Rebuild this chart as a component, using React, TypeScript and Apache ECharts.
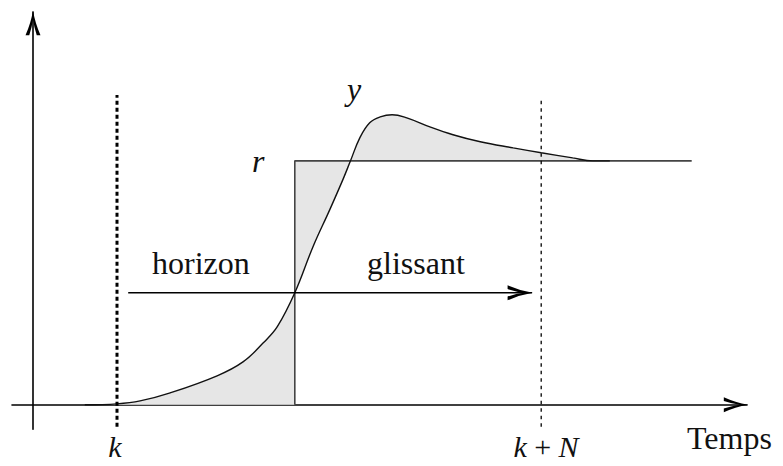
import React, { useEffect, useRef } from "react";
import * as echarts from "echarts";

// Time samples of the output y and its values (r normalised to 1)
const curveT = [7.4, 12, 15.3, 19.6, 26.3, 30, 32.9, 34.9, 37.4, 40, 42.4, 44.3, 45.3, 46.7, 48.1, 49.6, 51.3, 53.4, 56.7, 60, 63.9, 68.6, 72.6, 77.1, 80, 82.4];
const curveY = [0, 0.004, 0.016, 0.049, 0.119, 0.176, 0.254, 0.32, 0.459, 0.648, 0.8, 0.925, 0.996, 1.095, 1.156, 1.18, 1.189, 1.176, 1.139, 1.107, 1.078, 1.053, 1.033, 1.012, 1.0, 1.0];

// Reference step r
const stepTime = 37.4;
const rLevel = 1;
const rEnd = 94.1;

// Horizon markers
const kTime = 12;
const kNTime = 72.6;
const markerBottom = -0.09;
const kTop = 1.27;
const kNTop = 1.262;

// Sliding horizon arrow
const horizonStart = 13.6;
const horizonEnd = 71.3;
const horizonLevel = 0.459;

// Texts
const axisName = "Temps";
const labelHorizon = "horizon";
const labelGlissant = "glissant";

const ARROW_UP = "path://M8 0 Q5.5 14 0 26 L4 26 Q7 17 8 9 Q9 17 12 26 L16 26 Q10.5 14 8 0 Z";
const ARROW_RIGHT = "path://M26 8 Q12 5.5 0 0 L0 4 Q9 7 17 8 Q9 9 0 12 L0 16 Q12 10.5 26 8 Z";

const FONT = "'Liberation Serif', 'DejaVu Serif', serif";

export default function App() {
  const ref = useRef<HTMLDivElement>(null);
  useEffect(() => {
    if (!ref.current) return;
    const chart = echarts.init(ref.current, undefined, { renderer: "svg" });
    const curve = curveT.map((t, i) => [t, curveY[i]]);
    const seg1 = curve.filter((p) => p[0] <= stepTime);
    const seg2 = curve.filter((p) => p[0] >= stepTime);
    const smooth = 0.4;
    const fill = "#e6e6e6";
    const textStyle = (text: string, x: number, y: number, italic = false, align = "left", size = 32) => ({
      type: "text",
      x,
      y,
      silent: true,
      style: {
        text,
        fill: "#111",
        fontSize: size,
        fontFamily: FONT,
        fontStyle: italic ? "italic" : "normal",
        align,
        verticalAlign: "middle",
      },
    });
    chart.setOption({
      animation: false,
      backgroundColor: "#ffffff",
      grid: { left: 12, top: 12, width: 735, height: 417.2 },
      xAxis: {
        type: "value",
        min: -3,
        max: 102,
        axisLine: {
          show: true,
          onZero: true,
          lineStyle: { color: "#000", width: 1.6 },
          symbol: ["none", ARROW_UP],
          symbolSize: [15, 27],
          symbolOffset: [0, -11],
        },
        axisTick: { show: false },
        axisLabel: { show: false },
        splitLine: { show: false },
      },
      yAxis: {
        type: "value",
        min: -0.1,
        max: 1.61,
        axisLine: {
          show: true,
          onZero: true,
          lineStyle: { color: "#000", width: 1.6 },
          symbol: ["none", ARROW_UP],
          symbolSize: [15, 27],
          symbolOffset: [0, -11],
        },
        axisTick: { show: false },
        axisLabel: { show: false },
        splitLine: { show: false },
      },
      series: [
        {
          type: "line",
          data: seg1,
          smooth,
          symbol: "none",
          lineStyle: { width: 0 },
          areaStyle: { color: fill, opacity: 1, origin: 0 },
          z: 1,
          silent: true,
        },
        {
          type: "line",
          data: seg2,
          smooth,
          symbol: "none",
          lineStyle: { width: 0 },
          areaStyle: { color: fill, opacity: 1, origin: rLevel },
          z: 1,
          silent: true,
        },
        {
          type: "line",
          data: [[stepTime, 0], [stepTime, rLevel], [rEnd, rLevel]],
          symbol: "none",
          lineStyle: { color: "#444", width: 1.6 },
          z: 3,
          silent: true,
        },
        {
          type: "line",
          data: curve,
          smooth,
          symbol: "none",
          lineStyle: { color: "#111", width: 1.4 },
          z: 4,
          silent: true,
        },
        {
          type: "line",
          data: [[kTime, markerBottom], [kTime, kTop]],
          symbol: "none",
          lineStyle: { color: "#000", width: 3, type: [4, 3] },
          z: 5,
          silent: true,
        },
        {
          type: "line",
          data: [[kNTime, markerBottom], [kNTime, kNTop]],
          symbol: "none",
          lineStyle: { color: "#000", width: 1.3, type: [3.5, 4] },
          z: 5,
          silent: true,
        },
        {
          type: "line",
          data: [
            { value: [horizonStart, horizonLevel], symbol: "none" },
            {
              value: [horizonEnd, horizonLevel],
              symbol: ARROW_RIGHT,
              symbolSize: [25, 15],
              symbolOffset: [-12, 0],
            },
          ],
          showSymbol: true,
          symbol: "none",
          itemStyle: { color: "#000" },
          lineStyle: { color: "#000", width: 1.6 },
          z: 6,
          silent: true,
        },
      ],
      graphic: [
        textStyle(labelHorizon, 152, 263),
        textStyle(labelGlissant, 367, 263),
        textStyle(axisName, 687, 438),
        textStyle("y", 347, 89, true),
        textStyle("r", 252, 161, true),
        textStyle("k", 115, 446, true, "center", 30),
        {
          type: "text",
          x: 546,
          y: 446,
          silent: true,
          style: {
            text: "{i|k} + {i|N}",
            fill: "#111",
            fontSize: 30,
            fontFamily: FONT,
            align: "center",
            verticalAlign: "middle",
            rich: {
              i: { fontStyle: "italic", fontSize: 30, fontFamily: FONT, fill: "#111" },
            },
          },
        },
      ],
    });
    return () => chart.dispose();
  }, []);
  return <div ref={ref} style={{ width: 783, height: 466, margin: -8 }} />;
}
